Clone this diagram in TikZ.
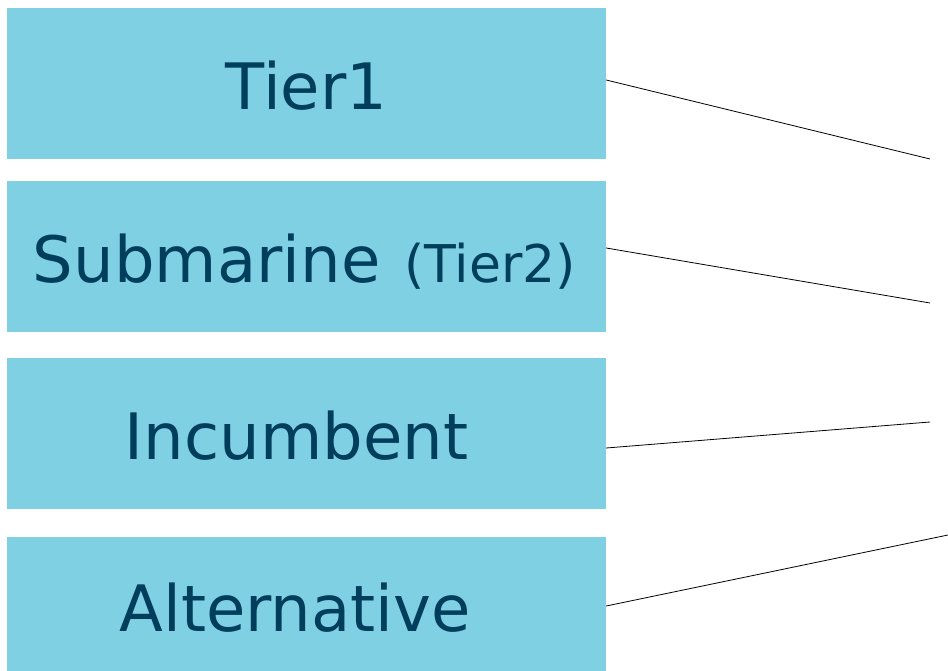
\documentclass[tikz,border=0pt]{standalone}
\usepackage{fontspec}
\setmainfont{DejaVu Sans}
\definecolor{boxfill}{HTML}{7FD0E3}
\definecolor{boxtext}{HTML}{003E5C}
\begin{document}
\begin{tikzpicture}[x=1pt,y=-1pt,
  tierbox/.style={fill=boxfill, draw=none, minimum width=599pt, minimum height=151pt, inner sep=0pt, text=boxtext, text height=52pt, text depth=0pt, font=\fontsize{64}{70}\selectfont},
  link/.style={draw=black, line width=0.8pt}]
\useasboundingbox (0,0) rectangle (948,671);
\node[tierbox] (b1) at (306.5,83.5) {Tier1};
\node[tierbox, text height=52.5pt] (b2) at (306.5,256.5) {Submarine\kern24pt{\fontsize{52}{58}\selectfont(Tier2)}\kern4pt};
\node[tierbox] (b3) at (306.5,433.5) {Incumbent\kern20pt};
\node[tierbox, minimum height=134pt, text height=55.4pt] (b4) at (306.5,604) {Alternative\kern23pt};
\coordinate (e1) at (930,159);
\coordinate (e2) at (930,303);
\coordinate (e3) at (930,422);
\coordinate (e4) at (948,535);
\draw[link] ([yshift=3.5pt]b1.east) -- (e1);
\draw[link] ([yshift=8.5pt]b2.east) -- (e2);
\draw[link] ([yshift=-14.5pt]b3.east) -- (e3);
\draw[link] ([yshift=-2pt]b4.east) -- (e4);
\end{tikzpicture}
\end{document}
